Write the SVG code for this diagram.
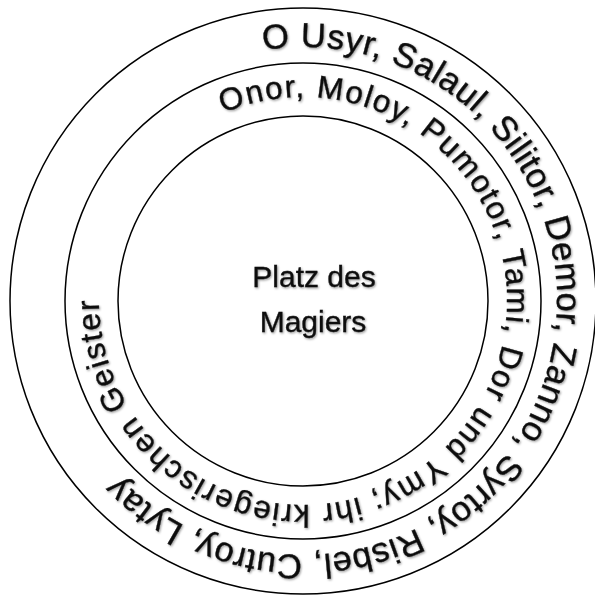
<svg xmlns="http://www.w3.org/2000/svg" xmlns:xlink="http://www.w3.org/1999/xlink" width="595" height="596" viewBox="0 0 595 596">
  <style>
    .ring { fill: none; stroke: #000; stroke-width: 1.5; }
    .label { font-family: "Liberation Sans", Arial, sans-serif; fill: #111; stroke: #111; stroke-width: 0.35px; filter: url(#soft); }
    .outer-text { font-size: 34.5px; letter-spacing: 0.5px; }
    .middle-text { font-size: 31.5px; letter-spacing: 1.5px; }
    .center-text { font-size: 30px; text-anchor: middle; }
  </style>
  <defs>
    <filter id="soft" x="-10%" y="-10%" width="120%" height="120%">
      <feDropShadow dx="1" dy="1.2" stdDeviation="1" flood-color="#000" flood-opacity="0.4"/>
    </filter>
    <!-- baseline circles, clockwise, each starting where its text begins -->
    <path id="outerBaseline" d="M263.3,50.1 A254,254 0 1 1 342.7,551.9 A254,254 0 1 1 263.3,50.1"/>
    <path id="middleBaseline" d="M223.3,113.2 A204,204 0 1 1 382.7,488.8 A204,204 0 1 1 223.3,113.2"/>
  </defs>

  <g id="rings">
    <circle id="outer-ring" class="ring" cx="303" cy="301" r="293"/>
    <circle id="middle-ring" class="ring" cx="303" cy="301" r="238"/>
    <circle id="inner-ring" class="ring" cx="303" cy="301" r="185"/>
  </g>

  <g id="outer-names">
    <text class="label outer-text"><textPath xlink:href="#outerBaseline" href="#outerBaseline">O Usyr, Salaul, Silitor, Demor, Zanno, Syrtoy, Risbel, Cutroy, Lytay</textPath></text>
  </g>

  <g id="middle-names">
    <text class="label middle-text"><textPath xlink:href="#middleBaseline" href="#middleBaseline">Onor, Moloy, Pumotor, Tami, Dor und Ymy; ihr kriegerischen Geister</textPath></text>
  </g>

  <g id="center">
    <text class="label center-text" x="314" y="287">Platz des</text>
    <text class="label center-text" x="313" y="332">Magiers</text>
  </g>
</svg>
